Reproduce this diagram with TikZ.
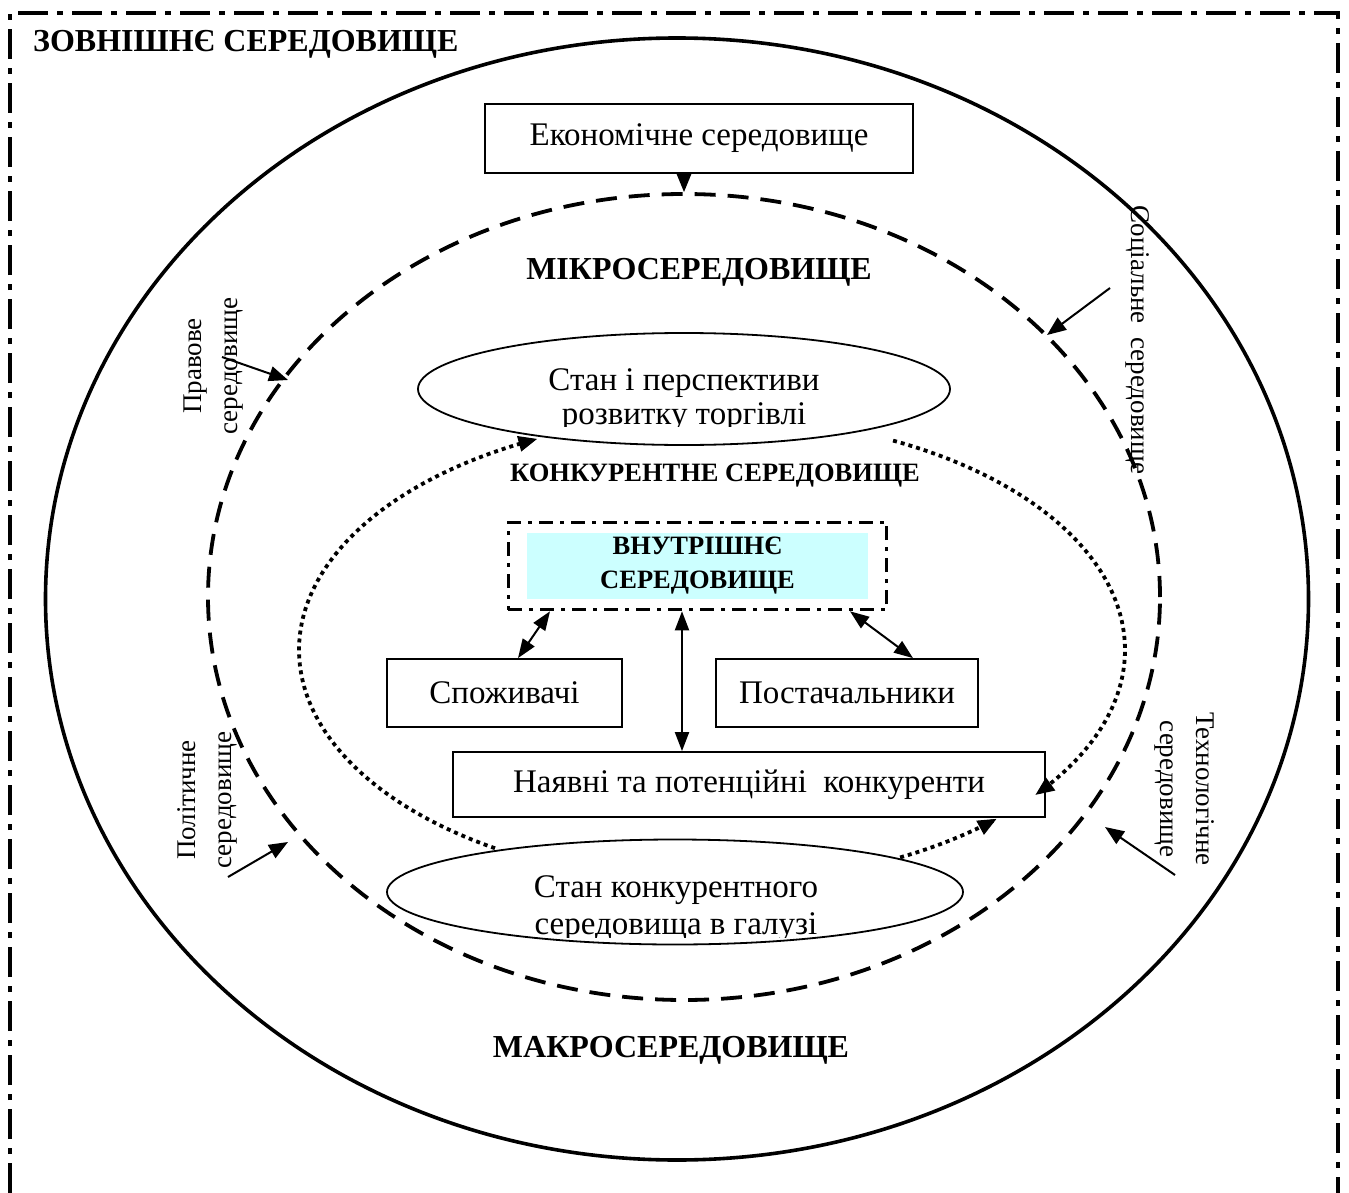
\documentclass[tikz,border=0pt]{standalone}
\usepackage{fontspec}
\setmainfont{Liberation Serif}
\usetikzlibrary{arrows.meta,shapes.geometric,calc,fit}
\definecolor{innercyan}{HTML}{CCFFFF}
\begin{document}
\begin{tikzpicture}[x=1pt,y=-1pt,
  box/.style={draw, line width=1.8pt, inner sep=0pt},
  ell/.style={draw, ellipse, line width=1.8pt, inner sep=0pt},
  txt/.style={font=\fontsize{33}{36}\selectfont, inner sep=0pt},
  lbl/.style={font=\fontsize{27}{36}\selectfont, inner sep=0pt, align=center},
  ttl/.style={font=\fontsize{32}{36}\selectfont\bfseries, inner sep=0pt},
  sttl/.style={font=\fontsize{26.5}{34}\selectfont\bfseries, inner sep=0pt, align=center},
  arr/.style={line width=2pt, -{Triangle[length=19pt,width=15pt]}},
  darr/.style={line width=2pt, {Triangle[length=19pt,width=14pt]}-{Triangle[length=19pt,width=14pt]}},
  dashdotbig/.style={line width=4pt, dash pattern=on 30pt off 9pt on 6pt off 9pt},
  dashdotsmall/.style={line width=3.2pt, dash pattern=on 14pt off 7pt on 4pt off 7pt},
  dashbig/.style={line width=3.8pt, dash pattern=on 21pt off 12pt},
  dots/.style={line width=3.8pt, dash pattern=on 4pt off 4pt},
]
\useasboundingbox (0,0) rectangle (1349,1193);

% outer frame
\draw[dashdotbig] (10,1193) -- (10,13) -- (1338,13) -- (1338,1193);
\node[ttl, anchor=west] (ext) at (33,44) {ЗОВНІШНЄ СЕРЕДОВИЩЕ};

% macro environment (circle)
\node[draw, ellipse, line width=3.6pt, minimum width=1263, minimum height=1122, inner sep=0pt] (macro) at (677,599) {};
\node[ttl] (macrot) at (671,1050) {МАКРОСЕРЕДОВИЩЕ};

% micro environment (dashed ellipse)
\node[draw, ellipse, dashbig, minimum width=952, minimum height=806, inner sep=0pt] (micro) at (684,597) {};
\node[ttl] (microt) at (699,272) {МІКРОСЕРЕДОВИЩЕ};

% economic
\node[box, txt, minimum width=428, minimum height=69] (eco) at (699,138.5) {Економічне середовище};
\draw[arr] (eco.south -| micro.north) -- (micro.north);

% side labels
\node[lbl, rotate=90] (prav) at (214,366) {Правове\\середовище};
\node[lbl, rotate=90] (polit) at (207,800) {Політичне\\середовище};
\node[lbl, rotate=-90] (tech) at (1185,789) {Технологічне\\середовище};
\node[lbl, rotate=-90] (soc) at (1138,340) {Соціальне\ \ середовище};

\coordinate (pravS) at (222,357);  \coordinate (pravE) at (288,380);
\coordinate (socS) at (1110,288);  \coordinate (socE) at (1047,335);
\coordinate (polS) at (228,877);   \coordinate (polE) at (288,842);
\coordinate (tecS) at (1175,875);  \coordinate (tecE) at (1105,827);
\draw[arr] (pravS) -- (pravE);
\draw[arr] (socS) -- (socE);
\draw[arr] (polS) -- (polE);
\draw[arr] (tecS) -- (tecE);

% ellipses
\node[ell, minimum width=532, minimum height=112] (topell) at (684,389) {};
\begin{scope}
  \clip (400,330) rectangle (970,426);
  \node[txt, anchor=base] (topa) at (684,390) {Стан і перспективи};
  \node[txt, anchor=base] (topb) at (684,424) {розвитку торгівлі};
\end{scope}

\node[ell, minimum width=576, minimum height=105] (botell) at (675,892) {};
\begin{scope}
  \clip (380,840) rectangle (980,937);
  \node[txt, anchor=base] (bota) at (676,897) {Стан конкурентного};
  \node[txt, anchor=base] (botb) at (676,934) {середовища в галузі};
\end{scope}

% competitive environment (dotted arcs)
\node[sttl] (compt) at (715,476) {КОНКУРЕНТНЕ СЕРЕДОВИЩЕ};
\draw[dots, -{Triangle[length=19pt,width=15pt]}] plot[domain=121.7:245, samples=80, smooth] ({712+413*cos(\x)},{650+233*sin(\x)});
\draw[dots, -{Triangle[length=19pt,width=15pt]}] plot[domain=-64:38.5, samples=80, smooth] ({712+413*cos(\x)},{650+233*sin(\x)});
\draw[dots, -{Triangle[length=19pt,width=15pt]}] plot[domain=62.9:46.4, samples=30, smooth] ({712+413*cos(\x)},{650+233*sin(\x)});

% internal environment
\node[fill=innercyan, minimum width=341, minimum height=66, inner sep=0pt, sttl] (innertxt) at (697.5,566) {ВНУТРІШНЄ\\СЕРЕДОВИЩЕ};
\node[draw, dashdotsmall, fit=(innertxt), inner xsep=18.5, inner ysep=10.5] (inner) {};

% boxes
\node[box, txt, minimum width=235, minimum height=68] (cons) at (504.5,693) {Споживачі};
\node[box, txt, minimum width=262, minimum height=68] (supp) at (847,693) {Постачальники};
\node[box, txt, minimum width=592, minimum height=65] (comp) at (749,784.5) {Наявні та потенційні\ \ конкуренти};

\draw[darr] (cons.north -| 518,0) -- (inner.south -| 550,0);
\draw[darr] (inner.south -| 850,0) -- (supp.north -| 913,0);
\draw[darr] (inner.south -| 682,0) -- (comp.north -| 682,0);
\end{tikzpicture}
\end{document}
